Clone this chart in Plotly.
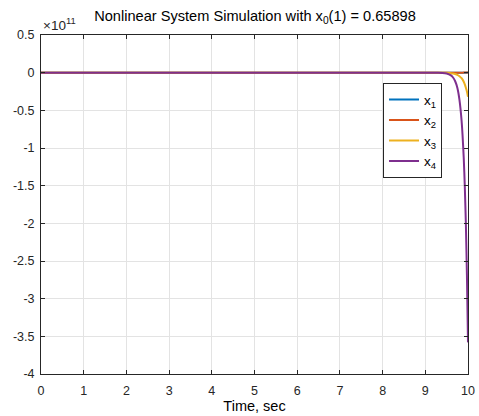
import plotly.graph_objects as go

# Simulation time (s) and state trajectories
time_s = [0, 1, 2, 3, 4, 5, 6, 7, 8, 9, 9.1, 9.2, 9.3, 9.4, 9.5, 9.6, 9.65,
          9.7, 9.75, 9.8, 9.85, 9.9, 9.925, 9.95, 9.975, 10]
x1_vals = [0, 0, 0, 0, 0, 0, 0, 0, 0, 0, 0, 0, 0, 0, 0, 0, 0,
           0, 0, 0, 0, 0.0001e11, 0.0002e11, 0.0003e11, 0.0005e11, 0.0008e11]
x2_vals = [0, 0, 0, 0, 0, 0, 0, 0, 0, 0, 0, 0, 0, 0, 0, 0, 0,
           0, 0.0001e11, 0.0002e11, 0.0004e11, 0.0007e11, 0.001e11, 0.0015e11, 0.0022e11, 0.003e11]
x3_vals = [0, 0, 0, 0, 0, 0, 0, 0, 0, 0, -0.0001e11, -0.0002e11, -0.0004e11, -0.001e11,
           -0.0027e11, -0.007e11, -0.011e11, -0.018e11, -0.029e11, -0.047e11, -0.074e11,
           -0.12e11, -0.155e11, -0.2e11, -0.25e11, -0.32e11]
x4_vals = [0, 0, 0, 0, 0, 0, 0, 0, 0, 0, -0.0001e11, -0.0004e11, -0.0011e11, -0.0036e11,
           -0.0114e11, -0.036e11, -0.064e11, -0.114e11, -0.2e11, -0.36e11, -0.64e11,
           -1.13e11, -1.51e11, -2.01e11, -2.69e11, -3.58e11]

series_names = ["x<sub>1</sub>", "x<sub>2</sub>", "x<sub>3</sub>", "x<sub>4</sub>"]
series_colors = ["#0072BD", "#D95319", "#EDB120", "#7E2F8E"]

x_ticks = [0, 1, 2, 3, 4, 5, 6, 7, 8, 9, 10]
y_ticks = [0.5e11, 0, -0.5e11, -1e11, -1.5e11, -2e11, -2.5e11, -3e11, -3.5e11, -4e11]
y_tick_text = ["0.5", "0", "-0.5", "-1", "-1.5", "-2", "-2.5", "-3", "-3.5", "-4"]

axis_color = "#262626"
grid_color = "#e3e3e3"

fig = go.Figure()
for name, ys, col in zip(series_names, [x1_vals, x2_vals, x3_vals, x4_vals], series_colors):
    fig.add_trace(go.Scatter(x=time_s, y=ys, mode="lines", name=name,
                             line=dict(color=col, width=2, shape="spline", smoothing=0.6)))

fig.update_layout(
    width=479, height=416,
    margin=dict(l=41, r=11, t=35, b=42, autoexpand=False),
    paper_bgcolor="white", plot_bgcolor="white",
    font=dict(family="Liberation Sans, Arial, sans-serif", size=12.5, color=axis_color),
    title=dict(text="Nonlinear System Simulation with x<sub>0</sub>(1) = 0.65898",
               x=255 / 479, xanchor="center", y=1 - 16 / 416, yanchor="middle",
               font=dict(size=14.6, color="#000000")),
    showlegend=True,
    legend=dict(x=0.801, y=0.858, xanchor="left", yanchor="top",
                bgcolor="white", bordercolor=axis_color, borderwidth=1,
                font=dict(size=13.5, color="#000000"), tracegroupgap=0,
                itemwidth=30),
)
fig.update_xaxes(range=[0, 10], tickvals=x_ticks, ticks="inside", ticklen=4,
                 tickcolor=axis_color, showline=True, linecolor=axis_color, linewidth=1,
                 mirror="ticks", showgrid=True, gridcolor=grid_color, zeroline=False,
                 automargin=False, ticklabelstandoff=5,
                 title=dict(text="Time, sec", standoff=3, font=dict(size=14.5, color="#000000")))
fig.update_yaxes(range=[-4e11, 0.5e11], tickvals=y_ticks, ticktext=y_tick_text,
                 ticks="inside", ticklen=4, tickcolor=axis_color, showline=True,
                 linecolor=axis_color, linewidth=1, mirror="ticks", showgrid=True,
                 gridcolor=grid_color, zeroline=False, automargin=False, ticklabelstandoff=3)

fig.add_annotation(text="\u00d710<sup>11</sup>", xref="paper", yref="paper",
                   x=0, y=1, xanchor="left", yanchor="bottom", yshift=0,
                   showarrow=False, font=dict(size=13.5, color=axis_color))

fig.write_html("out.html")
